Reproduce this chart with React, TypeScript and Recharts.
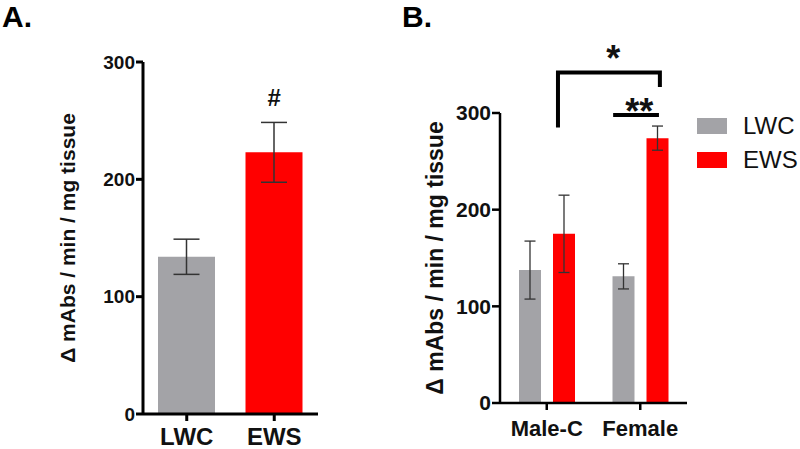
import {
  Bar,
  BarChart,
  Cell,
  ComposedChart,
  ErrorBar,
  Legend,
  Line,
  ReferenceDot,
  XAxis,
  YAxis,
} from "recharts";

const FONT = "'Liberation Sans', Arial, sans-serif";
const GRAY = "#a3a3a7";
const RED = "#ff0000";
const Y_LABEL = "\u0394 mAbs / min / mg tissue";

// panel A
const catsA = ["LWC", "EWS"];
const valuesA = [134, 223];
const errorsA = [15, 25.5];
const colorsA = [GRAY, RED];
const hashMark = { cat: "EWS", y: 270 };

// panel B
const groupsB = ["Male-C", "Female"];
const lwcB = [137.5, 131];
const lwcErrB = [30, 13];
const ewsB = [175, 274];
const ewsErrB = [40, 12.5];
const legendOrder = ["LWC", "EWS"];

// significance marks, x in group units (0..2), y in data units
const starBracket = [
  { x: 0.62, y: 287 },
  { x: 0.62, y: 342 },
  { x: 1.71, y: 342 },
  { x: 1.71, y: 329 },
];
const dblStarLine = [
  { x: 1.21, y: 298 },
  { x: 1.7, y: 298 },
];
const starPos = { x: 1.21, y: 357 };
const dblStarPos = { x: 1.49, y: 302 };

const yTicks = [0, 100, 200, 300];

const dataA = catsA.map((c, i) => ({ cat: c, value: valuesA[i], err: errorsA[i] }));
const dataB = groupsB.map((g, i) => ({
  group: g,
  LWC: lwcB[i],
  lwcErr: lwcErrB[i],
  EWS: ewsB[i],
  ewsErr: ewsErrB[i],
}));

// panel B plot box (chart-local px)
const B_W = 400;
const B_H = 449;
const B_TOP = 113;
const B_BOTTOM = 46;
const B_LEFT = 100;
const B_RIGHT = 113;
// overlay uses a taller domain so the brackets above 300 are not clipped
const OVER_MAX = 400;
const OVER_TOP = B_H - B_BOTTOM - ((B_H - B_BOTTOM - B_TOP) * OVER_MAX) / 300;

function AxisTitle(props: any) {
  const { viewBox, fontSize, dx } = props;
  const cx = viewBox.x + dx;
  const cy = viewBox.y + viewBox.height / 2;
  return (
    <text
      x={cx}
      y={cy}
      transform={`rotate(-90 ${cx} ${cy})`}
      textAnchor="middle"
      dominantBaseline="central"
      fontSize={fontSize}
      fontWeight="bold"
      fontFamily={FONT}
      fill="#111"
    >
      {Y_LABEL}
    </text>
  );
}

function LegendBox(props: any) {
  const items = [...(props.payload || [])].sort(
    (a: any, b: any) => legendOrder.indexOf(a.value) - legendOrder.indexOf(b.value)
  );
  return (
    <div style={{ fontFamily: FONT }}>
      {items.map((it: any) => (
        <div key={it.value} style={{ display: "flex", alignItems: "center", height: 34 }}>
          <div style={{ width: 30, height: 16, background: it.color, marginRight: 16 }} />
          <span style={{ fontSize: 24, color: "#111" }}>{it.value}</span>
        </div>
      ))}
    </div>
  );
}

const starLabel = (v: string) => ({
  value: v,
  position: "center" as const,
  fontSize: 36,
  fontWeight: "bold",
  fill: "#111",
  fontFamily: FONT,
});

export default function App() {
  return (
    <div style={{ position: "absolute", left: 0, top: 0, width: 800, height: 449, background: "#fff", fontFamily: FONT }}>
      <div style={{ position: "absolute", left: 2, top: 0, fontSize: 30, fontWeight: "bold" }}>A.</div>
      <div style={{ position: "absolute", left: 402, top: 0, fontSize: 30, fontWeight: "bold" }}>B.</div>

      <div style={{ position: "absolute", left: 0, top: 0 }}>
        <BarChart width={330} height={449} data={dataA} margin={{ top: 62, right: 12, bottom: 0, left: 83 }}>
          <XAxis
            dataKey="cat"
            height={35}
            axisLine={{ stroke: "#000", strokeWidth: 3 }}
            tickLine={{ stroke: "#000", strokeWidth: 3 }}
            tickSize={7}
            tickMargin={7}
            tick={{ fontSize: 24, fontWeight: "bold", fill: "#111", fontFamily: FONT }}
          />
          <YAxis
            domain={[0, 300]}
            ticks={yTicks}
            width={60}
            axisLine={{ stroke: "#000", strokeWidth: 3 }}
            tickLine={{ stroke: "#000", strokeWidth: 3 }}
            tickSize={7}
            tickMargin={1}
            tick={{ fontSize: 19, fontWeight: "bold", fill: "#111", fontFamily: FONT }}
            label={{ content: (p: any) => <AxisTitle {...p} fontSize={21} dx={-16} /> }}
          />
          <Bar dataKey="value" barSize={57} isAnimationActive={false}>
            {dataA.map((d, i) => (
              <Cell key={d.cat} fill={colorsA[i]} />
            ))}
            <ErrorBar dataKey="err" width={13} stroke="#333" strokeWidth={1.5} direction="y" />
          </Bar>
          <ReferenceDot
            x={hashMark.cat}
            y={hashMark.y}
            r={0}
            fill="none"
            stroke="none"
            ifOverflow="visible"
            label={{ value: "#", position: "center", fontSize: 24, fontWeight: "bold", fill: "#111", fontFamily: FONT }}
          />
        </BarChart>
      </div>

      <div style={{ position: "absolute", left: 400, top: 0 }}>
        <BarChart
          width={B_W}
          height={B_H}
          data={dataB}
          barSize={22}
          barGap={12}
          margin={{ top: B_TOP, right: B_RIGHT, bottom: 0, left: B_LEFT - 60 }}
        >
          <XAxis
            dataKey="group"
            height={B_BOTTOM}
            interval={0}
            axisLine={{ stroke: "#000", strokeWidth: 2.5 }}
            tickLine={{ stroke: "#000", strokeWidth: 2.5 }}
            tickSize={7}
            tickMargin={10}
            tick={{ fontSize: 22, fontWeight: "bold", fill: "#111", fontFamily: FONT }}
          />
          <YAxis
            domain={[0, 300]}
            ticks={yTicks}
            width={60}
            axisLine={{ stroke: "#000", strokeWidth: 2.5 }}
            tickLine={{ stroke: "#000", strokeWidth: 2.5 }}
            tickSize={8}
            tickMargin={1}
            tick={{ fontSize: 21, fontWeight: "bold", fill: "#111", fontFamily: FONT }}
            label={{ content: (p: any) => <AxisTitle {...p} fontSize={23} dx={-5} /> }}
          />
          <Legend
            layout="vertical"
            verticalAlign="middle"
            align="center"
            wrapperStyle={{ left: 297, top: 109, width: 110 }}
            content={(p: any) => <LegendBox {...p} />}
          />
          <Bar dataKey="LWC" name="LWC" fill={GRAY} isAnimationActive={false}>
            <ErrorBar dataKey="lwcErr" width={5.5} stroke="#333" strokeWidth={1.3} direction="y" />
          </Bar>
          <Bar dataKey="EWS" name="EWS" fill={RED} isAnimationActive={false}>
            <ErrorBar dataKey="ewsErr" width={5.5} stroke="#333" strokeWidth={1.3} direction="y" />
          </Bar>
        </BarChart>
      </div>

      <div style={{ position: "absolute", left: 400, top: 0, pointerEvents: "none" }}>
        <ComposedChart
          width={B_W}
          height={B_H}
          margin={{ top: OVER_TOP, right: B_RIGHT, bottom: B_BOTTOM, left: B_LEFT }}
        >
          <XAxis dataKey="x" type="number" domain={[0, 2]} hide />
          <YAxis domain={[0, OVER_MAX]} hide />
          <Line
            data={starBracket}
            dataKey="y"
            type="linear"
            stroke="#000"
            strokeWidth={4}
            strokeLinejoin="miter"
            strokeLinecap="square"
            dot={false}
            activeDot={false}
            isAnimationActive={false}
          />
          <Line
            data={dblStarLine}
            dataKey="y"
            type="linear"
            stroke="#000"
            strokeWidth={4}
            dot={false}
            activeDot={false}
            isAnimationActive={false}
          />
          <ReferenceDot x={starPos.x} y={starPos.y} r={0} fill="none" stroke="none" label={starLabel("*")} />
          <ReferenceDot x={dblStarPos.x} y={dblStarPos.y} r={0} fill="none" stroke="none" label={starLabel("**")} />
        </ComposedChart>
      </div>
    </div>
  );
}
